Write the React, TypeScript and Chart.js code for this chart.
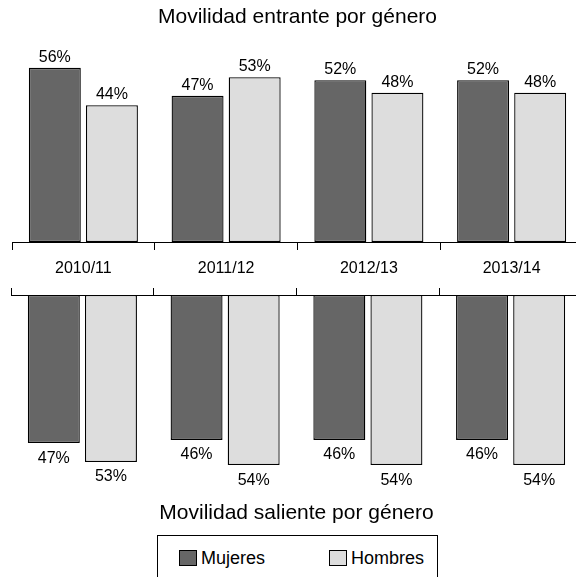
import { useEffect, useRef } from "react";
import { Chart, registerables } from "chart.js";

Chart.register(...registerables);

const categories = ["2010/11", "2011/12", "2012/13", "2013/14"];
const seriesNames = ["Mujeres", "Hombres"];
const entranteMujeres = [56, 47, 52, 52];
const entranteHombres = [44, 53, 48, 48];
const salienteMujeres = [47, 46, 46, 46];
const salienteHombres = [53, 54, 54, 54];
const topTitle = "Movilidad entrante por género";
const bottomTitle = "Movilidad saliente por género";
const seriesColors = ["#666666", "#dddddd"];

const FONT = "'Liberation Sans', Arial, Helvetica, sans-serif";

function labelPlugin(offset: number) {
  return {
    id: "valueLabels",
    afterDatasetsDraw(chart: any) {
      const ctx = chart.ctx;
      ctx.save();
      ctx.font = `16px ${FONT}`;
      ctx.fillStyle = "#000";
      ctx.textAlign = "center";
      ctx.textBaseline = "alphabetic";
      chart.data.datasets.forEach((ds: any, i: number) => {
        const meta = chart.getDatasetMeta(i);
        meta.data.forEach((el: any, j: number) => {
          ctx.fillText(`${ds.data[j]}%`, el.x, el.y + offset);
        });
      });
      ctx.restore();
    },
  };
}

function makeDatasets(a: number[], b: number[]) {
  return [a, b].map((d, i) => ({
    label: seriesNames[i],
    data: d,
    backgroundColor: seriesColors[i],
    borderColor: "#000",
    borderWidth: 1.3,
    borderSkipped: false as const,
    categoryPercentage: 0.8,
    barPercentage: 0.91,
  }));
}

export default function App() {
  const topRef = useRef<HTMLCanvasElement>(null);
  const botRef = useRef<HTMLCanvasElement>(null);

  useEffect(() => {
    const top = new Chart(topRef.current as HTMLCanvasElement, {
      type: "bar",
      data: { labels: categories, datasets: makeDatasets(entranteMujeres, entranteHombres) as any },
      options: {
        animation: false,
        responsive: true,
        maintainAspectRatio: false,
        layout: { padding: { left: 12, right: 12, top: 0, bottom: 0.8 } },
        plugins: {
          legend: { display: false },
          tooltip: { enabled: false },
          title: {
            display: true,
            text: topTitle,
            color: "#000",
            font: { family: FONT, size: 21, weight: "normal" },
            padding: { top: 5, bottom: 25.2 },
          },
        },
        scales: {
          x: {
            position: "bottom",
            offset: true,
            grid: {
              offset: true,
              drawOnChartArea: false,
              drawTicks: true,
              tickLength: 8,
              color: "#000",
              tickColor: "#000",
              lineWidth: 1,
            },
            border: { display: true, color: "#000", width: 1 },
            ticks: { color: "#000", font: { family: FONT, size: 16 }, padding: 9, maxRotation: 0, autoSkip: false },
          },
          y: { display: false, min: 0, max: 60 },
        },
      } as any,
      plugins: [labelPlugin(-6)],
    });

    const bot = new Chart(botRef.current as HTMLCanvasElement, {
      type: "bar",
      data: { labels: categories, datasets: makeDatasets(salienteMujeres, salienteHombres) as any },
      options: {
        animation: false,
        responsive: true,
        maintainAspectRatio: false,
        layout: { padding: { left: 12, right: 12, top: 0, bottom: 0 } },
        plugins: {
          legend: { display: false },
          tooltip: { enabled: false },
          title: {
            display: true,
            position: "bottom",
            text: bottomTitle,
            color: "#000",
            font: { family: FONT, size: 21, weight: "normal" },
            padding: { top: 17, bottom: 1.8 },
          },
        },
        scales: {
          x: {
            position: "top",
            offset: true,
            grid: {
              offset: true,
              drawOnChartArea: false,
              drawTicks: true,
              tickLength: 7,
              color: "#000",
              tickColor: "#000",
              lineWidth: 1,
            },
            border: { display: true, color: "#000", width: 1 },
            ticks: { display: false },
          },
          y: { display: false, min: 0, max: 60, reverse: true },
        },
      } as any,
      plugins: [labelPlugin(19.5)],
    });

    return () => {
      top.destroy();
      bot.destroy();
    };
  }, []);

  const swatch = (color: string, left: number) => (
    <div
      style={{
        position: "absolute",
        left,
        top: 550,
        width: 16,
        height: 14,
        background: color,
        border: "1px solid #000",
      }}
    />
  );
  const text = (t: string, left: number) => (
    <div
      style={{
        position: "absolute",
        left,
        top: 548.8,
        fontFamily: FONT,
        fontSize: 18,
        lineHeight: "18px",
        color: "#000",
        whiteSpace: "nowrap",
      }}
    >
      {t}
    </div>
  );

  return (
    <div
      style={{
        position: "absolute",
        left: 0,
        top: 0,
        width: 576,
        height: 577,
        overflow: "hidden",
        background: "#fff",
      }}
    >
      <div style={{ position: "absolute", left: 0, top: 0, width: 595, height: 288 }}>
        <canvas ref={topRef} />
      </div>
      <div style={{ position: "absolute", left: -1, top: 288, width: 595, height: 240 }}>
        <canvas ref={botRef} />
      </div>
      <div
        style={{
          position: "absolute",
          left: 157,
          top: 535,
          width: 279,
          height: 60,
          border: "1px solid #000",
        }}
      />
      {swatch(seriesColors[0], 179)}
      {text(seriesNames[0], 201)}
      {swatch(seriesColors[1], 329)}
      {text(seriesNames[1], 351)}
    </div>
  );
}
